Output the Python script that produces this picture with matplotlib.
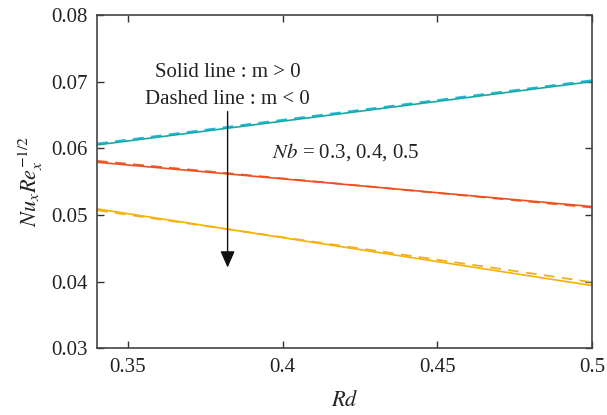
import matplotlib
matplotlib.use("Agg")
import matplotlib.pyplot as plt

# ── Data ────────────────────────────────────────────────────────────────────
rd = [0.34, 0.42, 0.5]

# Nb = 0.3 (top), 0.4 (middle), 0.5 (bottom); solid m > 0, dashed m < 0
nb03_pos = [0.0605, 0.06525, 0.0700]
nb03_neg = [0.0607, 0.06545, 0.0702]
nb04_pos = [0.0579, 0.05458, 0.05125]
nb04_neg = [0.0581, 0.0546, 0.0511]
nb05_pos = [0.0509, 0.04515, 0.0394]
nb05_neg = [0.0507, 0.0453, 0.0399]

xticks = [0.35, 0.4, 0.45, 0.5]
xticklabels = ["0.35", "0.4", "0.45", "0.5"]
yticks = [0.03, 0.04, 0.05, 0.06, 0.07, 0.08]
yticklabels = ["0.03", "0.04", "0.05", "0.06", "0.07", "0.08"]

# ── Style ───────────────────────────────────────────────────────────────────
plt.rcParams.update({
    "font.family": ["Liberation Serif", "DejaVu Serif"],
    "mathtext.fontset": "stix",
    "font.size": 15,
})

fig = plt.figure(figsize=(6.07, 4.15), dpi=100)
ax = fig.add_axes([0.160, 0.161, 0.815, 0.803])

dash = (0, (6, 4))
ax.plot(rd, nb03_neg, color="#1FB8E0", lw=1.3, ls=dash)
ax.plot(rd, nb03_pos, color="#14A8A0", lw=1.2)
ax.plot(rd, nb04_neg, color="#E8602A", lw=1.3, ls=dash)
ax.plot(rd, nb04_pos, color="#F04E1E", lw=1.2)
ax.plot(rd, nb05_neg, color="#F0B020", lw=1.3, ls=dash)
ax.plot(rd, nb05_pos, color="#F7B200", lw=1.2)

ax.set_xlim(0.34, 0.5)
ax.set_ylim(0.03, 0.08)
ax.set_xticks(xticks)
ax.set_xticklabels(xticklabels)
ax.set_yticks(yticks)
ax.set_yticklabels(yticklabels)
ax.tick_params(direction="in", top=True, right=True, length=5, width=1,
               colors="#333333", labelsize=15, pad=7)
ax.tick_params(axis="x", labelcolor="#222222")
ax.tick_params(axis="y", labelcolor="#222222")
for s in ax.spines.values():
    s.set_color("#444444")
    s.set_linewidth(1.2)

ax.set_xlabel("$Rd$", fontsize=16, labelpad=10, color="#222222")
ax.set_ylabel("$Nu_xRe_x^{-1/2}$", fontsize=16, labelpad=4, color="#222222")

ax.annotate("", xy=(0.3822, 0.0421), xytext=(0.3822, 0.0655),
            arrowprops=dict(arrowstyle="-|>,head_length=0.5,head_width=0.22",
                            color="#111111", lw=1.0,
                            mutation_scale=20, shrinkA=0, shrinkB=0))

ax.text(0.3822, 0.0713, "Solid line : m > 0", ha="center", va="center",
        fontsize=15, color="#222222")
ax.text(0.3822, 0.0673, "Dashed line : m < 0", ha="center", va="center",
        fontsize=15, color="#222222")
ax.text(0.3965, 0.0595, "$Nb$ = 0.3, 0.4, 0.5", ha="left", va="center",
        fontsize=15, color="#222222")

fig.savefig("out.png", dpi=100)
